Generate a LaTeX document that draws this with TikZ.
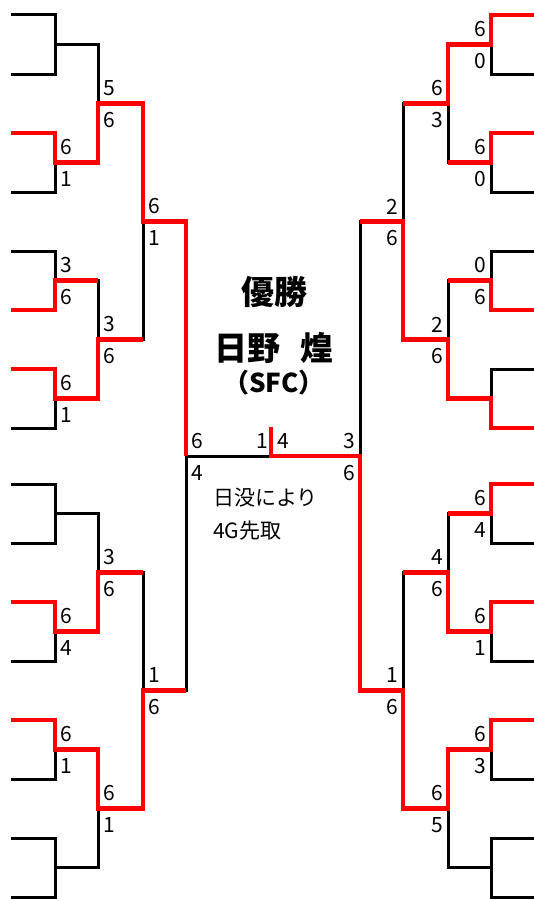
\documentclass[tikz,border=0pt]{standalone}
\usepackage{fontspec}
\setmainfont{Noto Sans CJK JP}
\usepackage{tikz}
\usetikzlibrary{positioning}

% two scores at a junction: name, x, y, upper, lower
\newcommand{\scorepair}[5]{%
  \node[score] (#1a) at (#2+11,#3-15) {#4};
  \node[score] (#1b) at (#2+11,#3+17) {#5};}

\begin{document}
\begin{tikzpicture}[x=1pt,y=-1pt,
  line/.style={line width=3pt, black, line join=miter},
  win/.style={line width=4.5pt, red, line join=miter},
  score/.style={inner sep=0pt, font=\fontsize{21}{21}\selectfont},
  title/.style={inner sep=0pt, font=\fontsize{33}{33}\selectfont\bfseries},
  club/.style={inner sep=0pt, font=\fontsize{26}{26}\selectfont\bfseries},
  note/.style={inner sep=0pt, font=\fontsize{21}{21}\selectfont}]

\useasboundingbox (0,0) rectangle (533,899);

% Draw both halves of the bracket (right half is mirrored)
\foreach \sx/\dir in {0/1,546/-1} {
\begin{scope}[xshift=\sx pt, xscale=\dir]
\foreach \h in {15,484} {
  \foreach \k in {0,...,3}
    \draw[line] (11,\h+118*\k) -| (55,\h+118*\k+59) -- (11,\h+118*\k+59);
  \foreach \k in {0,1}
    \draw[line] (55,\h+29.5+236*\k) -| (98,\h+147.5+236*\k) -- (55,\h+147.5+236*\k);
  \draw[line] (98,\h+88.5) -| (143,\h+324.5) -- (98,\h+324.5);
}
\draw[line] (143,221.5) -| (186,690.5) -- (143,690.5);
\draw[line] (186,456) -- (274,456);
\end{scope}
}

% Winners, left half
\draw[win] (11,133) -| (55,162.5) -| (98,103.5) -| (143,221.5) -| (186,456);
\draw[win] (11,310) -| (55,280.5) -- (98,280.5);
\draw[win] (11,369) -| (55,398.5) -| (98,339.5) -- (143,339.5);
\draw[win] (11,602) -| (55,631.5) -| (98,572.5) -- (143,572.5);
\draw[win] (11,720) -| (55,749.5) -| (98,808.5) -| (143,690.5) -- (186,690.5);

\scorepair{l1}{55}{162.5}{6}{1}
\scorepair{l2}{98}{103.5}{5}{6}
\scorepair{l3}{55}{280.5}{3}{6}
\scorepair{l4}{55}{398.5}{6}{1}
\scorepair{l5}{98}{339.5}{3}{6}
\scorepair{l6}{143}{221.5}{6}{1}
\scorepair{l7}{55}{631.5}{6}{4}
\scorepair{l8}{98}{572.5}{3}{6}
\scorepair{l9}{55}{749.5}{6}{1}
\scorepair{l10}{98}{808.5}{6}{1}
\scorepair{l11}{143}{690.5}{1}{6}
\scorepair{l12}{186}{456}{6}{4}

% Winners, right half
\begin{scope}[xshift=546pt, xscale=-1]
\draw[win] (11,15) -| (55,44.5) -| (98,103.5) -- (143,103.5);
\draw[win] (11,133) -| (55,162.5) -- (98,162.5);
\draw[win] (11,310) -| (55,280.5) -- (98,280.5);
\draw[win] (11,428) -| (55,398.5) -| (98,339.5) -| (143,221.5) -- (186,221.5);
\draw[win] (11,484) -| (55,513.5) -- (98,513.5);
\draw[win] (11,602) -| (55,631.5) -| (98,572.5) -- (143,572.5);
\draw[win] (11,720) -| (55,749.5) -| (98,808.5) -| (143,690.5) -| (186,456) -- (275,456) -- (275,427);

\scorepair{r1}{55}{44.5}{6}{0}
\scorepair{r2}{55}{162.5}{6}{0}
\scorepair{r3}{98}{103.5}{6}{3}
\scorepair{r4}{55}{280.5}{0}{6}
\scorepair{r5}{98}{339.5}{2}{6}
\scorepair{r6}{143}{221.5}{2}{6}
\scorepair{r7}{55}{513.5}{6}{4}
\scorepair{r8}{55}{631.5}{6}{1}
\scorepair{r9}{98}{572.5}{4}{6}
\scorepair{r10}{55}{749.5}{6}{3}
\scorepair{r11}{98}{808.5}{6}{5}
\scorepair{r12}{143}{690.5}{1}{6}
\scorepair{r13}{186}{456}{3}{6}
\end{scope}

% Final score
\node[score] (fl) at (262,441) {1};
\node[score] (fr) at (283,441) {4};

% Champion
\node[title] (champ) at (274,292) {優勝};
\node[title] (winner) at (274,348) {日野\hspace{0.6em}煌};
\node[club] (club) at (274,383) {（SFC）};
\node[note, anchor=west] (note1) at (213,498) {日没により};
\node[note, below right=13pt and 0pt of note1.south west] (note2) {4G先取};

\end{tikzpicture}
\end{document}
